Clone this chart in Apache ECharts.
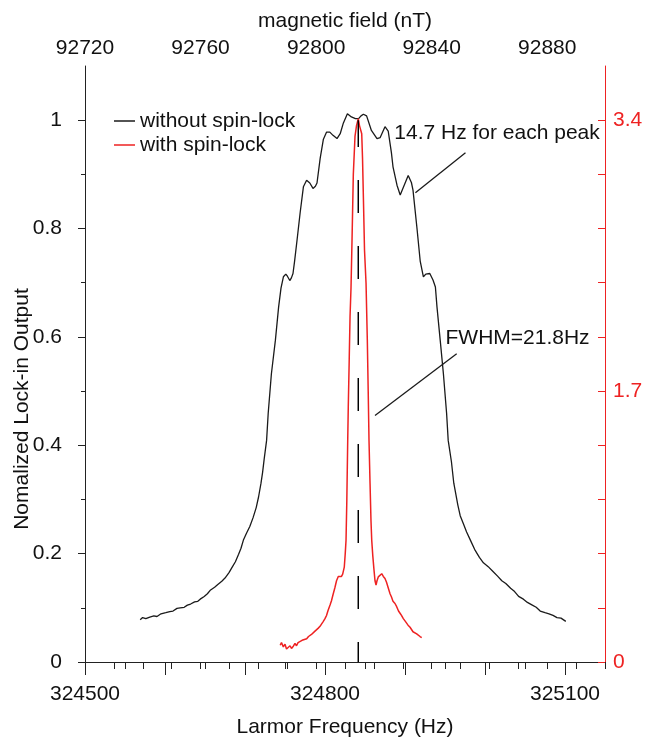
<!DOCTYPE html>
<html><head><meta charset="utf-8">
<script src="https://cdn.jsdelivr.net/npm/echarts/dist/echarts.min.js"></script>
<style>html,body{margin:0;padding:0;background:#fff}#c{width:657px;height:740px}</style>
</head><body><div id="c"></div>
<script>
// ---- data ----
const blackFreq = [324569,324572,324576,324581,324586,324590,324595,324601,324606,324610,324615,324619,324624,324628,324632,324637,324641,324644,324649,324653,324657,324662,324666,324671,324675,324680,324684,324688,324692,324695,324698,324702,324706,324710,324714,324717,324720,324722,324724,324727,324729,324733,324738,324742,324745,324748,324751,324753,324756,324758,324760,324762,324765,324769,324773,324777,324781,324785,324788,324790,324794,324798,324802,324806,324810,324815,324819,324823,324828,324833,324838,324842,324845,324848,324852,324858,324865,324869,324875,324879,324883,324885,324890,324894,324899,324904,324908,324910,324915,324919,324923,324926,324928,324931,324935,324938,324940,324944,324948,324952,324954,324958,324961,324966,324969,324973,324977,324982,324987,324993,324998,325004,325010,325016,325021,325026,325032,325037,325042,325048,325053,325058,325064,325069,325075,325080,325085,325090,325095,325101];
const blackVal = [0.078,0.082,0.080,0.083,0.085,0.084,0.089,0.091,0.093,0.094,0.099,0.100,0.101,0.105,0.107,0.111,0.112,0.116,0.121,0.126,0.133,0.138,0.143,0.149,0.155,0.165,0.175,0.185,0.199,0.210,0.225,0.238,0.250,0.266,0.285,0.305,0.330,0.350,0.375,0.409,0.459,0.532,0.594,0.655,0.690,0.711,0.716,0.712,0.704,0.709,0.717,0.740,0.778,0.830,0.877,0.889,0.884,0.874,0.878,0.884,0.930,0.965,0.978,0.978,0.972,0.966,0.975,0.995,1.012,1.006,1.003,1.003,1.008,1.011,1.008,0.981,0.966,0.968,0.988,0.980,0.940,0.914,0.880,0.862,0.880,0.898,0.885,0.871,0.800,0.740,0.711,0.716,0.718,0.717,0.705,0.692,0.655,0.594,0.532,0.459,0.409,0.370,0.330,0.290,0.270,0.255,0.240,0.224,0.208,0.193,0.183,0.176,0.167,0.158,0.150,0.145,0.136,0.130,0.121,0.116,0.110,0.106,0.101,0.094,0.091,0.089,0.086,0.082,0.081,0.075];

const redFreq = [324744,324745.6,324747.9,324750,324751.9,324754.1,324756.3,324758.1,324760.4,324762.5,324764.4,324766.3,324768.8,324771.3,324773.8,324777.1,324779.4,324781.3,324783.1,324785.4,324787.5,324789.4,324791.3,324793.8,324795.6,324797.5,324800,324801.9,324803.8,324806.3,324808.1,324810,324812.5,324814.4,324816.6,324818.8,324820.6,324822.1,324824.1,324825.3,324826.3,324827.3,324828.4,324829.1,324830.3,324831.3,324832.5,324833.8,324835.4,324837.5,324839.4,324841.6,324843.1,324845.9,324846.9,324848.1,324849.4,324851.3,324852.9,324854,324855,324856.3,324857.5,324858.4,324859.8,324861.3,324862.5,324863.8,324865,324866.6,324868.8,324870.9,324872.9,324875,324876.9,324878.8,324881.3,324883.1,324885,324887.5,324889.6,324891.9,324893.8,324895.6,324897.9,324900,324901.9,324903.8,324906.3,324908.1,324910,324912.5,324914.6,324916.9,324918.8,324920.9];
const redVal = [0.105,0.122,0.095,0.112,0.082,0.078,0.102,0.085,0.099,0.116,0.102,0.122,0.116,0.136,0.126,0.146,0.160,0.150,0.173,0.177,0.194,0.187,0.211,0.224,0.238,0.252,0.272,0.292,0.323,0.357,0.384,0.422,0.469,0.510,0.537,0.544,0.537,0.551,0.595,0.680,0.765,1.020,1.391,1.601,1.904,2.166,2.346,2.652,3.060,3.298,3.366,3.410,3.366,3.315,3.162,2.890,2.584,2.377,2.020,1.700,1.391,1.122,0.884,0.765,0.663,0.575,0.510,0.483,0.510,0.534,0.544,0.554,0.537,0.524,0.500,0.469,0.428,0.408,0.381,0.367,0.347,0.320,0.306,0.292,0.272,0.258,0.248,0.231,0.218,0.207,0.190,0.187,0.177,0.167,0.160,0.153];

const centerFreq = 324841.6;

const bottomLabels = [324500, 324800, 325100];
const bottomMajorTicks = [324500,324600,324700,324800,324900,325000,325100];
const bottomMinorTicks = [324550,324650,324750,324850,324950,325050,325150];
const topLabels = [92720, 92760, 92800, 92840, 92880];
const topTicks = [92720,92730,92740,92750,92760,92770,92780,92790,92800,92810,92820,92830,92840,92850,92860,92870,92880,92890];
const leftLabels = [0, 0.2, 0.4, 0.6, 0.8, 1];
const leftMinorTicks = [0.1, 0.3, 0.5, 0.7, 0.9];
const rightTicks = [0,0.34,0.68,1.02,1.36,1.7,2.04,2.38,2.72,3.06,3.4];
const rightLabels = [0, 1.7, 3.4];

// ---- chart ----
const FONT = "'Liberation Sans', Arial, sans-serif";
const BLACK = '#1a1a1a';
const RED = '#ee2222';
const chart = echarts.init(document.getElementById('c'), null, {renderer: 'canvas'});
const txt = (size, color) => ({fontFamily: FONT, fontSize: size, color: color || '#111'});
const plain = v => String(Math.round(v * 1000) / 1000);

chart.setOption({
  animation: false,
  backgroundColor: '#fff',
  grid: {left: 85, right: 52, top: 66, bottom: 78, containLabel: false, outerBoundsMode: 'none'},
  legend: {
    data: ['without spin-lock', 'with spin-lock'],
    orient: 'vertical', left: 114, top: 109, padding: 0, itemGap: 0,
    icon: 'rect', itemWidth: 21, itemHeight: 1.5,
    textStyle: Object.assign(txt(21), {lineHeight: 24})
  },
  xAxis: [
    {type: 'value', position: 'bottom', min: 324500, max: 325150,
     name: 'Larmor Frequency (Hz)', nameLocation: 'middle', nameGap: 55, nameMoveOverlap: false, nameTextStyle: txt(21),
     axisLine: {lineStyle: {color: '#222', width: 1}},
     axisTick: {length: 13, customValues: bottomMajorTicks, lineStyle: {color: '#222'}},
     axisLabel: Object.assign(txt(21), {margin: 22, customValues: bottomLabels, formatter: plain}),
     splitLine: {show: false}},
    {type: 'value', position: 'top', min: 92720, max: 92900,
     name: 'magnetic field (nT)', nameLocation: 'middle', nameGap: 34, nameMoveOverlap: false, nameTextStyle: txt(21),
     axisLine: {lineStyle: {color: '#222', width: 1}},
     axisTick: {inside: true, length: 7, customValues: topTicks, lineStyle: {color: '#222'}},
     axisLabel: Object.assign(txt(21), {margin: 7, customValues: topLabels, formatter: plain}),
     splitLine: {show: false}},
    {type: 'value', position: 'bottom', min: 324500, max: 325150,
     axisLine: {show: false},
     axisTick: {length: 7, customValues: bottomMinorTicks, lineStyle: {color: '#222'}},
     axisLabel: {show: false},
     splitLine: {show: false}}
  ],
  yAxis: [
    {type: 'value', position: 'left', min: 0, max: 1.1,
     name: 'Nomalized Lock-in Output', nameLocation: 'middle', nameGap: 52, nameMoveOverlap: false,
     nameTextStyle: Object.assign(txt(21), {padding: [0, 90, 0, 0]}),
     axisLine: {lineStyle: {color: '#222', width: 1}},
     axisTick: {length: 7, customValues: leftLabels, lineStyle: {color: '#222'}},
     axisLabel: Object.assign(txt(21), {margin: 23, customValues: leftLabels, formatter: plain}),
     splitLine: {show: false}},
    {type: 'value', position: 'left', min: 0, max: 1.1,
     axisLine: {show: false},
     axisTick: {length: 4, customValues: leftMinorTicks, lineStyle: {color: '#222'}},
     axisLabel: {show: false},
     splitLine: {show: false}},
    {type: 'value', position: 'right', min: 0, max: 3.74,
     axisLine: {lineStyle: {color: RED, width: 1}},
     axisTick: {inside: true, length: 7, customValues: rightTicks, lineStyle: {color: RED}},
     axisLabel: Object.assign(txt(21, RED), {margin: 8, customValues: rightLabels, formatter: plain}),
     splitLine: {show: false}}
  ],
  series: [
    {name: 'without spin-lock', type: 'line', xAxisIndex: 0, yAxisIndex: 0,
     data: blackFreq.map((f, i) => [f, blackVal[i]]),
     symbol: 'none', color: BLACK, lineStyle: {color: BLACK, width: 1.3}, z: 3,
     markLine: {silent: true, symbol: ['none', 'arrow'], symbolSize: [0, 11], animation: false,
       lineStyle: {color: BLACK, width: 1.3, type: 'solid'}, label: {show: false},
       data: [
         [{coord: [324913, 0.866]}, {coord: [324975.6, 0.940]}],
         [{coord: [324862.5, 0.455]}, {coord: [324964.6, 0.569]}]
       ]},
     markPoint: {silent: true, symbol: 'circle', symbolSize: 1, itemStyle: {color: 'rgba(0,0,0,0)'},
       label: Object.assign(txt(21), {show: true, position: 'right', distance: 0}),
       data: [
         {coord: [324886, 0.976], label: {formatter: '14.7 Hz for each peak'}},
         {coord: [324950, 0.597], label: {formatter: 'FWHM=21.8Hz'}}
       ]}},
    {name: 'with spin-lock', type: 'line', xAxisIndex: 0, yAxisIndex: 2,
     data: redFreq.map((f, i) => [f, redVal[i]]),
     symbol: 'none', color: RED, lineStyle: {color: RED, width: 1.5}, z: 4},
    {name: 'center', type: 'line', xAxisIndex: 0, yAxisIndex: 0,
     data: [[centerFreq, 0], [centerFreq, 1]],
     symbol: 'none', color: '#000', lineStyle: {color: '#000', width: 1.5, type: [33, 33], dashOffset: 13}, z: 5}
  ]
});
</script>
</body></html>
